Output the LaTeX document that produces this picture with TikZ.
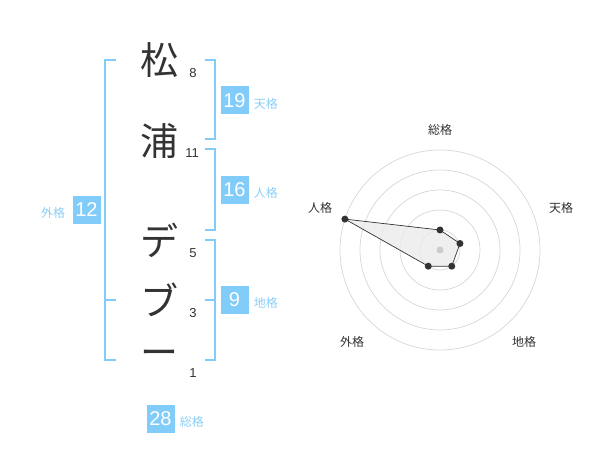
\documentclass[tikz,border=0pt]{standalone}
\usepackage{fontspec}
\setmainfont{Liberation Sans}
\newfontfamily\jp{Noto Sans CJK JP}
\usepackage{xcolor}
\usepackage{tikz}
\usetikzlibrary{calc}
\usetikzlibrary{positioning}
\definecolor{kaku}{RGB}{130,204,250}
\definecolor{kakutxt}{RGB}{140,206,246}
\definecolor{moji}{RGB}{51,51,51}
\tikzstyle{kanji} = [font=\jp\fontsize{38}{38}\selectfont, text=moji, inner sep=0pt]
\tikzstyle{kakusu} = [font=\fontsize{13}{13}\selectfont, text=moji, inner sep=0pt]
\tikzstyle{box} = [fill=kaku, text=white,
	minimum width = 28pt,
	minimum height = 28pt,
	inner sep=0pt, font=\fontsize{20}{20}\selectfont]
\tikzstyle{lbl} = [text=kakutxt, font=\jp\fontsize{12}{12}\selectfont, inner sep=0pt]
\tikzstyle{rlbl} = [text=moji, font=\jp\fontsize{12}{12}\selectfont, inner sep=0pt]
\tikzstyle{brk} = [draw=kaku, line width=2pt]
\tikzstyle{ring} = [draw=black!16, line width=0.7pt]
\tikzstyle{pt} = [circle, fill=moji, inner sep=0pt, minimum size=7pt]
\newcommand{\rbrk}[2]{\draw[brk] ($(#1)+(-10,0)$) -- (#1) -- (#2) -- ($(#2)+(-10,0)$)}
\newcommand{\lbrk}[2]{\draw[brk] ($(#1)+(11,0)$) -- (#1) -- (#2) -- ($(#2)+(11,0)$)}

\begin{document}
\begin{tikzpicture}[x=1pt, y=-1pt]
			\useasboundingbox (0,0) rectangle (600,470);
			
			\node (matsu) [kanji] at (159,60) {松};
			\node (ura) [kanji] at (159,141) {浦};
			\node (de) [kanji] at (159,240) {デ};
			\node (bu) [kanji] at (159,300) {ブ};
			\node (bar) [kanji] at (159,358) {ー};
			\node (k1) [kakusu] at (193,73) {8};
			\node (k2) [kakusu] at (192,153) {11};
			\node (k3) [kakusu] at (193,253) {5};
			\node (k4) [kakusu] at (193,313) {3};
			\node (k5) [kakusu] at (193,373) {1};
			
			\coordinate (lt) at (105,60);
			\coordinate (lm) at (105,300);
			\coordinate (lb) at (105,360);
			\lbrk{lt}{lb};
			\draw [brk] (lm) -- ++(11,0);
			
			\coordinate (tt) at (215,60);
			\coordinate (tb) at (215,139);
			\rbrk{tt}{tb};
			\coordinate (jt) at (215,149);
			\coordinate (jb) at (215,230);
			\rbrk{jt}{jb};
			\coordinate (ct) at (215,240);
			\coordinate (cm) at (215,300);
			\coordinate (cb) at (215,360);
			\rbrk{ct}{cb};
			\draw [brk] (cm) -- ++(-10,0);
			
			\node (ten) [box] at (234.5,100.5) {19};
			\node (tenl) [lbl, right=5pt of ten, yshift=-3pt] {天格};
			\node (jin) [box] at (234.5,190) {16};
			\node (jinl) [lbl, right=5pt of jin, yshift=-3pt] {人格};
			\node (chi) [box] at (234.5,300) {9};
			\node (chil) [lbl, right=5pt of chi, yshift=-3pt] {地格};
			\node (gai) [box] at (86.5,210) {12};
			\node (gail) [lbl, left=7pt of gai, yshift=-3pt] {外格};
			\node (sou) [box] at (160.5,419) {28};
			\node (soul) [lbl, right=5pt of sou, yshift=-3pt] {総格};
			
			\coordinate (o) at (440,250);
			\draw [ring] (o) circle[radius=20pt];
			\draw [ring] (o) circle[radius=40pt];
			\draw [ring] (o) circle[radius=60pt];
			\draw [ring] (o) circle[radius=80pt];
			\draw [ring] (o) circle[radius=100pt];
			
			\coordinate (rs) at ($(o)+(90:20pt)$);
			\coordinate (rt) at ($(o)+(18:21pt)$);
			\coordinate (rc) at ($(o)+(-54:20pt)$);
			\coordinate (rg) at ($(o)+(-126:20pt)$);
			\coordinate (rj) at ($(o)+(162:100pt)$);
			\draw [fill=black!8, fill opacity=0.8, draw=moji, line width=0.7pt] (rs) -- (rt) -- (rc) -- (rg) -- (rj) -- cycle;
			\node (oc) [circle, fill=black!20, inner sep=0pt, minimum size=7pt] at (o) {};
			\node (ps) [pt] at (rs) {};
			\node (pt') [pt] at (rt) {};
			\node (pc) [pt] at (rc) {};
			\node (pg) [pt] at (rg) {};
			\node (pj) [pt] at (rj) {};
			
			\node (souax) [rlbl] at (440,130) {総格};
			\node (tenax) [rlbl] at (561,208) {天格};
			\node (chiax) [rlbl] at (524,342) {地格};
			\node (gaiax) [rlbl] at (352,342) {外格};
			\node (jinax) [rlbl] at (320,208) {人格};
		\end{tikzpicture}
\end{document}
